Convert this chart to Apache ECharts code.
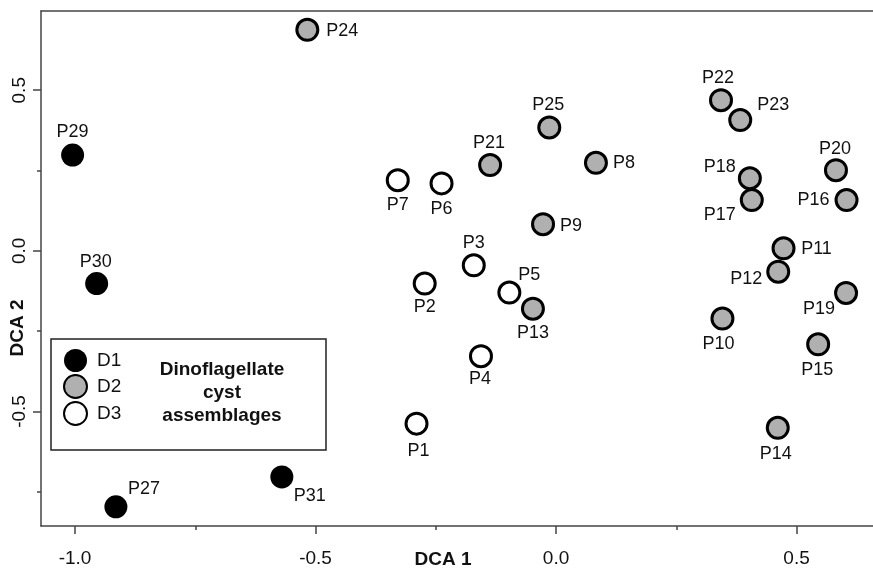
<!DOCTYPE html>
<html><head><meta charset="utf-8">
<script src="https://cdn.jsdelivr.net/npm/echarts@6/dist/echarts.min.js"></script>
<style>html,body{margin:0;padding:0;background:#fff}#c{width:873px;height:569px}</style>
</head><body><div id="c"></div><script>
// ---- data ----
const groupNames = ['D1', 'D2', 'D3'];
const d1Names = ['P29', 'P30', 'P27', 'P31'];
const d1X = [-1.005, -0.955, -0.915, -0.570];
const d1Y = [0.298, -0.102, -0.797, -0.704];
const d2Names = ['P24', 'P25', 'P21', 'P9', 'P8', 'P13', 'P22', 'P23', 'P18', 'P17', 'P20', 'P16', 'P11', 'P12', 'P19', 'P10', 'P15', 'P14'];
const d2X = [-0.517, -0.014, -0.137, -0.027, 0.083, -0.048, 0.343, 0.383, 0.403, 0.407, 0.582, 0.604, 0.473, 0.462, 0.603, 0.346, 0.545, 0.461];
const d2Y = [0.688, 0.384, 0.267, 0.083, 0.274, -0.180, 0.469, 0.407, 0.226, 0.158, 0.251, 0.158, 0.008, -0.065, -0.131, -0.211, -0.291, -0.551];
const d3Names = ['P7', 'P6', 'P3', 'P2', 'P5', 'P4', 'P1'];
const d3X = [-0.329, -0.238, -0.171, -0.273, -0.097, -0.156, -0.290];
const d3Y = [0.220, 0.210, -0.045, -0.102, -0.130, -0.328, -0.538];
const xTicks = [-1.0, -0.5, 0.0, 0.5];
const xMinorTicks = [-0.75, -0.25, 0.25];
const yTicks = [-0.5, 0.0, 0.5];
const yMinorTicks = [-0.75, -0.25, 0.25];
const xTitle = 'DCA 1';
const yTitle = 'DCA 2';
const legendTitle = 'Dinoflagellate\ncyst\nassemblages';

// ---- label placement (style) ----
const labelOffsets = {
  P29: [0, -23], P30: [-1, -22], P27: [28, -18], P31: [28, 19],
  P24: [35, 1], P25: [-1, -22], P21: [-1, -22], P7: [0, 25], P6: [0, 26],
  P9: [28, 2], P3: [0, -22], P2: [0, 23], P5: [20, -18], P13: [0, 24],
  P4: [-1, 23], P1: [2, 27], P8: [28, 0], P22: [-3, -22], P23: [33, -15],
  P18: [-30, -11], P17: [-32, 15], P20: [-1, -21], P16: [-33, 0],
  P11: [33, 1], P12: [-32, 7], P19: [-27, 16], P10: [-4, 25], P15: [-1, 26], P14: [-2, 26]
};

const FONT = '"Liberation Sans", Arial, sans-serif';
function mk(names, xs, ys) {
  return names.map((n, i) => ({ name: n, value: [xs[i], ys[i]], label: { offset: labelOffsets[n] || [0, 0] } }));
}
const lbl = { show: true, position: 'inside', formatter: '{b}', color: '#111', fontSize: 18, fontFamily: FONT };

const XMIN = -1.0707, XMAX = 0.659, YMIN = -0.8567, YMAX = 0.7467;
const chart = echarts.init(document.getElementById('c'), null, { renderer: 'canvas' });
const axisLineStyle = { color: '#444', width: 1.5 };
const tickStyle = { color: '#444', width: 1.5 };
chart.setOption({
  animation: false,
  backgroundColor: '#fff',
  grid: { left: 41, top: 11, right: 0, bottom: 43, show: false, containLabel: false },
  xAxis: [
    { type: 'value', position: 'bottom', min: XMIN, max: XMAX, splitLine: { show: false },
      axisLine: { show: true, onZero: false, lineStyle: axisLineStyle },
      axisTick: { show: true, length: 8, lineStyle: tickStyle, customValues: xTicks },
      axisLabel: { show: true, customValues: xTicks, margin: 23, fontSize: 19, color: '#111', fontFamily: FONT, formatter: v => v.toFixed(1) } },
    { type: 'value', position: 'bottom', min: XMIN, max: XMAX, splitLine: { show: false },
      axisLine: { show: false, onZero: false },
      axisTick: { show: true, length: 4, lineStyle: tickStyle, customValues: xMinorTicks },
      axisLabel: { show: false } },
    { type: 'value', position: 'top', min: XMIN, max: XMAX, splitLine: { show: false },
      axisLine: { show: true, onZero: false, lineStyle: axisLineStyle },
      axisTick: { show: false }, axisLabel: { show: false } }
  ],
  yAxis: [
    { type: 'value', position: 'left', min: YMIN, max: YMAX, splitLine: { show: false },
      axisLine: { show: true, onZero: false, lineStyle: axisLineStyle },
      axisTick: { show: true, length: 8, lineStyle: tickStyle, customValues: yTicks },
      axisLabel: { show: true, customValues: yTicks, rotate: 90, margin: 12, fontSize: 19, color: '#111', fontFamily: FONT, formatter: v => v.toFixed(1) } },
    { type: 'value', position: 'left', min: YMIN, max: YMAX, splitLine: { show: false },
      axisLine: { show: false, onZero: false },
      axisTick: { show: true, length: 4, lineStyle: tickStyle, customValues: yMinorTicks },
      axisLabel: { show: false } }
  ],
  legend: {
    data: groupNames, orient: 'vertical', left: 63, top: 349, itemWidth: 23, itemHeight: 23, itemGap: 2, padding: 0,
    textStyle: { fontSize: 19, color: '#111', fontFamily: FONT, padding: [0, 0, 0, 5] }, selectedMode: false
  },
  graphic: [
    { type: 'rect', shape: { x: 51, y: 339, width: 275, height: 111 }, style: { fill: 'none', stroke: '#222', lineWidth: 1.5 }, z: 0 },
    { type: 'text', x: 222, y: 393, style: { text: legendTitle, fontSize: 19, fontWeight: 'bold', fontFamily: FONT, fill: '#111', align: 'center', verticalAlign: 'middle', lineHeight: 23 } },
    { type: 'text', x: 443, y: 560, style: { text: xTitle, fontSize: 19, fontWeight: 'bold', fontFamily: FONT, fill: '#111', align: 'center', verticalAlign: 'middle' } },
    { type: 'text', x: 18, y: 328, rotation: Math.PI / 2, style: { text: yTitle, fontSize: 19, fontWeight: 'bold', fontFamily: FONT, fill: '#111', align: 'center', verticalAlign: 'middle' } }
  ],
  series: [
    { name: 'D1', type: 'scatter', symbol: 'circle', symbolSize: 23, data: mk(d1Names, d1X, d1Y),
      itemStyle: { color: '#000', borderColor: '#000', borderWidth: 0, opacity: 1 }, label: lbl, emphasis: { disabled: true } },
    { name: 'D2', type: 'scatter', symbol: 'circle', symbolSize: 21, data: mk(d2Names, d2X, d2Y),
      itemStyle: { color: '#b0b0b0', borderColor: '#000', borderWidth: 3, opacity: 1 }, label: lbl, emphasis: { disabled: true } },
    { name: 'D3', type: 'scatter', symbol: 'circle', symbolSize: 21, data: mk(d3Names, d3X, d3Y),
      itemStyle: { color: '#fff', borderColor: '#000', borderWidth: 3, opacity: 1 }, label: lbl, emphasis: { disabled: true } }
  ]
});
</script></body></html>
